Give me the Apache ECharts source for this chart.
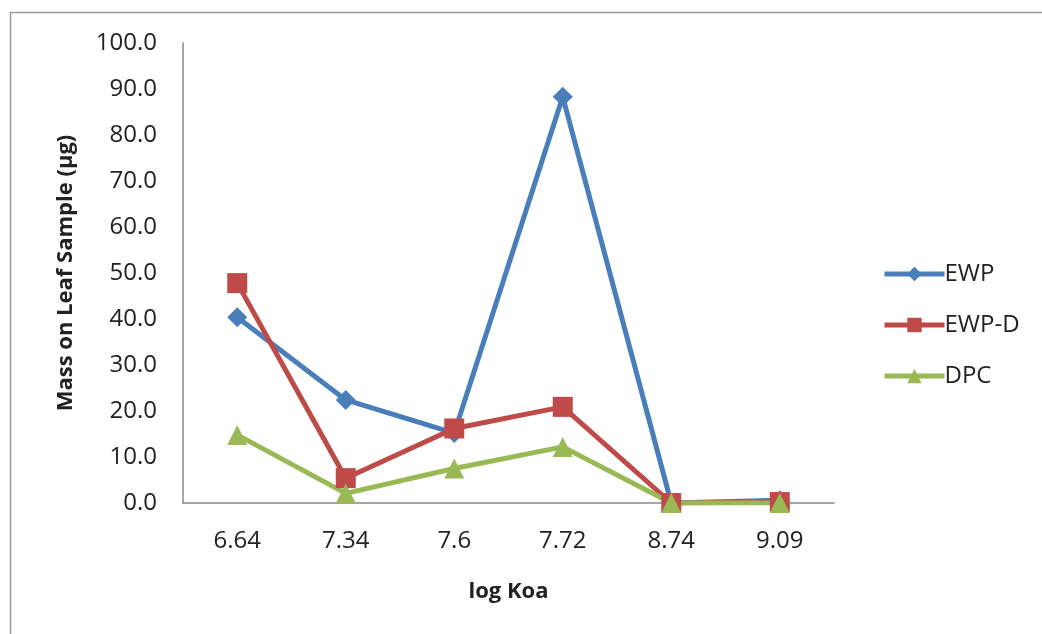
<!DOCTYPE html>
<html>
<head>
<meta charset="utf-8">
<script src="https://cdn.jsdelivr.net/npm/echarts@6/dist/echarts.min.js"></script>
<style>
  html, body { margin: 0; padding: 0; background: #fff; }
  #chart { width: 1042px; height: 634px; }
</style>
</head>
<body>
<div id="chart"></div>
<script>
// データ
const categories = ['6.64', '7.34', '7.6', '7.72', '8.74', '9.09'];
const ewp  = [40.4, 22.4, 15.2, 88.3, 0.0, 0.6];
const ewpD = [47.8, 5.4, 16.2, 20.9, 0.0, 0.2];
const dpc  = [14.8, 2.1, 7.5, 12.2, 0.0, 0.0];

const FONT = '"Open Sans", "Liberation Sans", sans-serif';

const chart = echarts.init(document.getElementById('chart'));

function lineSeries(name, data, color, symbol, size) {
  return {
    name: name,
    type: 'line',
    data: data,
    symbol: symbol,
    symbolSize: size,
    lineStyle: { color: color, width: 5 },
    itemStyle: { color: color },
    animation: false
  };
}

const option = {
  backgroundColor: '#fff',
  textStyle: { fontFamily: FONT },
  graphic: [{
    type: 'rect',
    shape: { x: 10.5, y: 12.5, width: 1100, height: 700 },
    style: { fill: 'none', stroke: '#9a9a9a', lineWidth: 1.5 },
    silent: true
  }],
  grid: { left: 183, right: 208, top: 43, bottom: 131 },
  legend: {
    orient: 'vertical',
    left: 877,
    top: 256,
    itemWidth: 60,
    itemHeight: 18,
    itemGap: 25,
    lineStyle: { width: 5 },
    textStyle: { fontSize: 24, color: '#222', fontFamily: FONT, lineHeight: 26, padding: [0, 0, 0, -5] },
    data: ['EWP', 'EWP-D', 'DPC']
  },
  xAxis: {
    type: 'category',
    data: categories,
    boundaryGap: true,
    name: 'log Koa',
    nameLocation: 'middle',
    nameGap: 78,
    nameTextStyle: { fontSize: 22, fontWeight: 'bold', color: '#222', fontFamily: FONT },
    axisLine: { lineStyle: { color: '#888', width: 1.5 } },
    axisTick: { show: false },
    axisLabel: { fontSize: 24, color: '#222', margin: 26, fontFamily: FONT }
  },
  yAxis: {
    type: 'value',
    min: 0,
    max: 100,
    interval: 10,
    name: 'Mass on Leaf Sample (µg)',
    nameLocation: 'middle',
    nameGap: 106,
    nameTextStyle: { fontSize: 22, fontWeight: 'bold', color: '#222', fontFamily: FONT },
    axisLine: { show: true, lineStyle: { color: '#888', width: 1.5 } },
    axisTick: { show: false },
    splitLine: { show: false },
    axisLabel: {
      fontSize: 24, color: '#222', margin: 26, fontFamily: FONT,
      formatter: v => v.toFixed(1)
    }
  },
  series: [
    lineSeries('EWP', ewp, '#4a7ebb', 'diamond', 20),
    lineSeries('EWP-D', ewpD, '#be4b48', 'rect', 20),
    lineSeries('DPC', dpc, '#98b954', 'triangle', 20)
  ]
};

chart.setOption(option);
</script>
</body>
</html>
